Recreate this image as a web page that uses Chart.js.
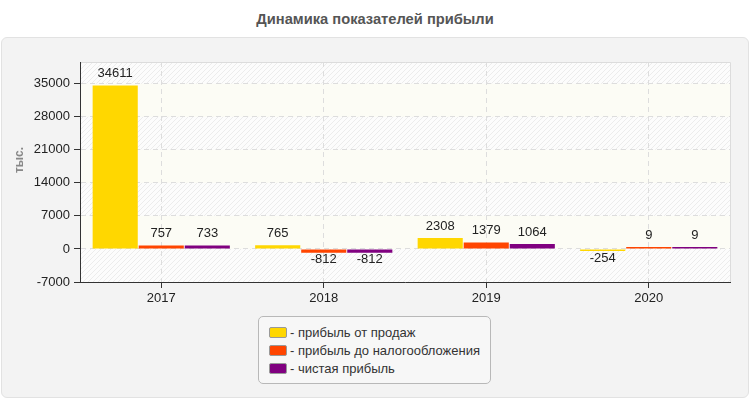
<!DOCTYPE html>
<html>
<head>
<meta charset="utf-8">
<script src="https://cdn.jsdelivr.net/npm/chart.js@4"></script>
<style>
  html, body { margin:0; padding:0; background:#fff; width:750px; height:400px; overflow:hidden; font-family: "Liberation Sans", Arial, sans-serif; }
  #title { position:absolute; left:0; top:10px; width:750px; text-align:center; font-weight:bold; font-size:14.7px; line-height:18px; color:#555; }
  #panel { position:absolute; left:1px; top:37px; width:746px; height:359px; background:#f3f3f3; border:1px solid #e2e2e2; border-radius:6px; }
  #wrap { position:absolute; left:0; top:0; width:750px; height:400px; }
  #legend { position:absolute; left:258px; top:316px; width:231px; height:66px; border:1px solid #b8b8b8; border-radius:5px; background:#f7f7f7; font-size:13px; color:#333; }
  .item { position:absolute; left:10px; height:18px; line-height:18px; white-space:nowrap; }
  .sw { display:inline-block; width:16px; height:9px; border:1px solid #999; border-radius:2px; vertical-align:middle; margin-right:3px; position:relative; top:-1px; }
</style>
</head>
<body>
<div id="title">Динамика показателей прибыли</div>
<div id="panel"></div>
<div id="wrap"><canvas id="c" width="750" height="400"></canvas></div>
<div id="legend"></div>
<script>
const categories = ['2017', '2018', '2019', '2020'];
const salesProfit = [34611, 765, 2308, -254];
const preTaxProfit = [757, -812, 1379, 9];
const netProfit = [733, -812, 1064, 9];
const seriesNames = ['- прибыль от продаж', '- прибыль до налогообложения', '- чистая прибыль'];
const seriesColors = ['#FFD700', '#FF4500', '#800080'];
const yTicks = [-7000, 0, 7000, 14000, 21000, 28000, 35000];
const yMin = -7000, yMax = 39600;
const yTitle = 'тыс.';

const FONT = '"Liberation Sans", Arial, sans-serif';

function makePattern(ctx) {
  const s = 5;
  const p = document.createElement('canvas');
  p.width = s; p.height = s;
  const c = p.getContext('2d');
  c.fillStyle = '#fcfcfc';
  c.fillRect(0, 0, s, s);
  c.strokeStyle = '#ececec';
  c.lineWidth = 1;
  c.beginPath();
  c.moveTo(0, s); c.lineTo(s, 0);
  c.moveTo(-1, 1); c.lineTo(1, -1);
  c.moveTo(s - 1, s + 1); c.lineTo(s + 1, s - 1);
  c.stroke();
  return ctx.createPattern(p, 'repeat');
}

const bgPlugin = {
  id: 'bg',
  beforeDraw(chart) {
    const { ctx, chartArea: a, scales: { y } } = chart;
    ctx.save();
    ctx.fillStyle = '#fcfcf5';
    ctx.fillRect(a.left, a.top, a.right - a.left, a.bottom - a.top);
    const pat = makePattern(ctx);
    const edges = yTicks.concat([yMax]);
    for (let i = 0; i < edges.length - 1; i++) {
      if (i % 2 === 0) {
        const top = y.getPixelForValue(edges[i + 1]);
        const bot = y.getPixelForValue(edges[i]);
        ctx.fillStyle = pat;
        ctx.fillRect(a.left, top, a.right - a.left, bot - top);
      }
    }
    ctx.strokeStyle = '#dcdcdc';
    ctx.lineWidth = 1;
    ctx.beginPath();
    ctx.moveTo(a.left, Math.round(a.top) + 0.5);
    ctx.lineTo(Math.round(a.right) + 0.5, Math.round(a.top) + 0.5);
    ctx.lineTo(Math.round(a.right) + 0.5, a.bottom);
    ctx.stroke();
    ctx.restore();
  },
  afterDraw(chart) {
    const { ctx } = chart;
    ctx.save();
    ctx.translate(20, 160);
    ctx.rotate(-Math.PI / 2);
    ctx.font = 'bold 12px ' + FONT;
    ctx.fillStyle = '#888';
    ctx.textAlign = 'center';
    ctx.textBaseline = 'middle';
    ctx.fillText(yTitle, 0, 0);
    ctx.restore();
  }
};

const labelPlugin = {
  id: 'vals',
  afterDatasetsDraw(chart) {
    const { ctx } = chart;
    ctx.save();
    ctx.font = '13px ' + FONT;
    ctx.fillStyle = '#222';
    ctx.textAlign = 'center';
    ctx.textBaseline = 'middle';
    chart.data.datasets.forEach((ds, di) => {
      const meta = chart.getDatasetMeta(di);
      meta.data.forEach((el, i) => {
        const v = ds.data[i];
        const yy = v >= 0 ? el.y - 12 : Math.max(el.y, el.base) + 7;
        ctx.fillText(String(v), el.x, yy);
      });
    });
    ctx.restore();
  }
};

const seriesData = [salesProfit, preTaxProfit, netProfit];

new Chart(document.getElementById('c'), {
  type: 'bar',
  data: {
    labels: categories,
    datasets: seriesData.map((d, i) => ({
      label: seriesNames[i],
      data: d,
      backgroundColor: seriesColors[i],
      borderWidth: 0,
      minBarLength: 2,
      categoryPercentage: 0.85,
      barPercentage: 0.98
    }))
  },
  options: {
    responsive: false,
    animation: false,
    devicePixelRatio: 1,
    layout: { padding: { left: 10, right: 20, top: 62, bottom: 0 } },
    plugins: { legend: { display: false }, title: { display: false }, tooltip: { enabled: false } },
    scales: {
      x: {
        grid: { offset: false, color: '#dddddd', tickColor: '#333', tickLength: 6, lineWidth: 1 },
        border: { color: '#333', dash: [5, 4], width: 1 },
        ticks: { color: '#222', font: { size: 13, family: FONT }, padding: 3 },
        afterFit(s) { s.height = 118; }
      },
      y: {
        min: yMin, max: yMax,
        afterBuildTicks(s) { s.ticks = yTicks.map(v => ({ value: v })); },
        grid: { color: '#dddddd', tickColor: '#333', tickLength: 6 },
        border: { color: '#333', dash: [5, 4], width: 1 },
        ticks: { autoSkip: false, color: '#222', font: { size: 13, family: FONT }, padding: 4, callback: v => String(v) },
        afterFit(s) { s.width = 70; }
      }
    }
  },
  plugins: [bgPlugin, labelPlugin]
});

const lg = document.getElementById('legend');
seriesNames.forEach((n, i) => {
  const d = document.createElement('div');
  d.className = 'item';
  d.style.top = (7 + i * 18) + 'px';
  const sw = document.createElement('span');
  sw.className = 'sw';
  sw.style.background = seriesColors[i];
  d.appendChild(sw);
  d.appendChild(document.createTextNode(n));
  lg.appendChild(d);
});
</script>
</body>
</html>
